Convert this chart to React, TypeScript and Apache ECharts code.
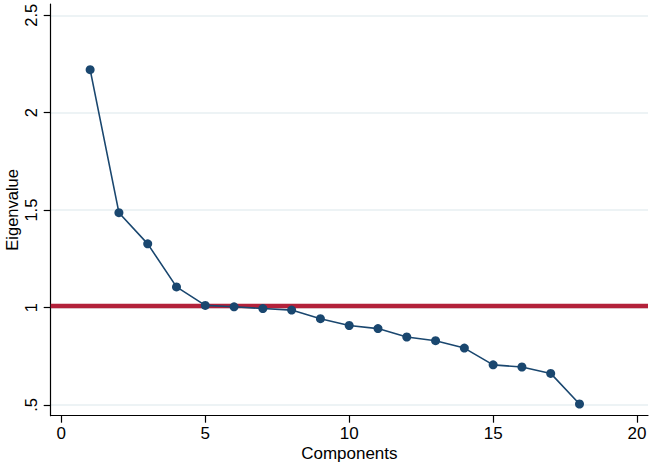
import React, { useEffect, useRef } from "react";
import * as echarts from "echarts";

const components = [1, 2, 3, 4, 5, 6, 7, 8, 9, 10, 11, 12, 13, 14, 15, 16, 17, 18];
const eigenvalues = [2.221, 1.487, 1.327, 1.106, 1.011, 1.004, 0.995, 0.987, 0.943, 0.908, 0.892, 0.849, 0.83, 0.792, 0.706, 0.695, 0.662, 0.505];
const xTicks = [0, 5, 10, 15, 20];
const yTicks = [0.5, 1, 1.5, 2, 2.5];
const refLine = 1.008;

const FONT = "'Liberation Sans', Arial, Helvetica, sans-serif";

export default function App() {
  const ref = useRef<HTMLDivElement>(null);
  useEffect(() => {
    if (!ref.current) return;
    const chart = echarts.init(ref.current, null, { renderer: "svg" });
    chart.setOption({
      animation: false,
      backgroundColor: "#ffffff",
      grid: { left: 50.7, right: 5, top: 4, bottom: 51.3, containLabel: false, outerBoundsMode: "none" },
      xAxis: {
        type: "value",
        min: -0.37,
        max: 20.38,
        name: "Components",
        nameLocation: "middle",
        nameGap: 29.5,
        nameMoveOverlap: false,
        nameTextStyle: { fontFamily: FONT, fontSize: 17, color: "#000" },
        axisLine: { show: true, onZero: false, lineStyle: { color: "#000", width: 1.2 } },
        axisTick: { show: true, inside: false, length: 7, customValues: xTicks, lineStyle: { color: "#000", width: 1.2 } },
        axisLabel: { customValues: xTicks, margin: 9, fontFamily: FONT, fontSize: 17, color: "#000" },
        splitLine: { show: false },
      },
      yAxis: {
        type: "value",
        min: 0.445,
        max: 2.558,
        name: "Eigenvalue",
        nameLocation: "middle",
        nameGap: 30,
        nameMoveOverlap: false,
        nameTextStyle: { fontFamily: FONT, fontSize: 16.5, color: "#000" },
        axisLine: { show: true, onZero: false, lineStyle: { color: "#000", width: 1.2 } },
        axisTick: { show: true, inside: false, length: 7, customValues: yTicks, lineStyle: { color: "#000", width: 1.2 } },
        axisLabel: {
          customValues: yTicks,
          rotate: 90,
          margin: 11,
          fontFamily: FONT,
          fontSize: 16.5,
          color: "#000",
          formatter: (v: number) => (v < 1 ? String(v).replace(/^0/, "") : String(v)),
        },
        splitLine: { show: true, lineStyle: { color: "#e7eff2", width: 1.6 } },
      },
      series: [
        {
          type: "line",
          z: 3,
          data: components.map((c, i) => [c, eigenvalues[i]]),
          symbol: "circle",
          symbolSize: 9,
          lineStyle: { color: "#1a476f", width: 1.6 },
          itemStyle: { color: "#1a476f" },
          markLine: {
            silent: true,
            z: 1,
            symbol: "none",
            label: { show: false },
            lineStyle: { color: "#b3213a", width: 4.3, type: "solid" },
            data: [{ yAxis: refLine }],
          },
        },
      ],
    });
    return () => chart.dispose();
  }, []);
  return (
    <div
      ref={ref}
      style={{ position: "fixed", left: 0, top: 0, width: 653, height: 467, background: "#fff" }}
    />
  );
}
